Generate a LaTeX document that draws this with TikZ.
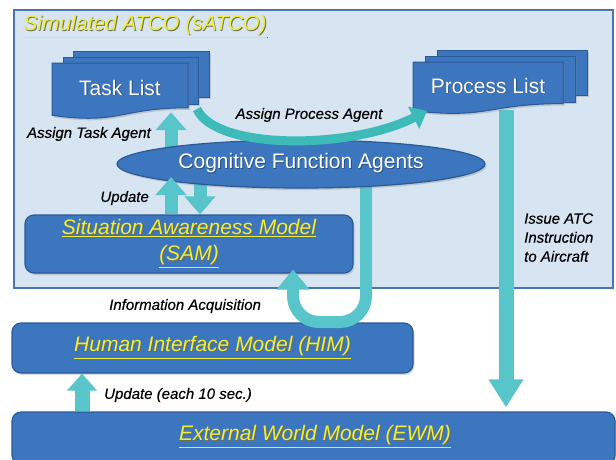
\documentclass[tikz,border=0pt]{standalone}
\usepackage{fontspec}
\setmainfont{Liberation Sans}
\newfontfamily\lblf[FakeBold=0.4]{Liberation Sans}
\usetikzlibrary{arrows.meta,shapes.geometric,shadows}
\pgfdeclarelayer{back}
\pgfdeclarelayer{mid}
\pgfsetlayers{back,mid,main}
\definecolor{bgblue}{HTML}{D7E4F1}
\definecolor{frameblue}{HTML}{4A74B0}
\definecolor{boxblue}{HTML}{3C76BE}
\definecolor{boxedge}{HTML}{2B5A98}
\definecolor{ylw}{HTML}{EEEE40}
\definecolor{yshadow}{HTML}{6E6E50}
\definecolor{wshadow}{HTML}{2A4E80}
\definecolor{tealc}{HTML}{58C5CA}
\definecolor{tealmid}{HTML}{3CBBB8}
\newcommand{\ytxt}[1]{{\color{yshadow}\rlap{\hspace{0.9pt}\raisebox{-0.9pt}{\underline{#1}}}}\underline{#1}}
\newcommand{\wtxt}[1]{{\color{wshadow}\rlap{\hspace{0.9pt}\raisebox{-0.9pt}{#1}}}#1}
\tikzset{
  shd/.style={drop shadow={opacity=0.3,shadow xshift=1.5pt,shadow yshift=-2pt}},
  box/.style={draw=boxedge, line width=1.2pt, fill=boxblue, rounded corners=9pt, shd, inner sep=0pt},
  ytitle/.style={text=ylw, font=\fontsize{21}{26}\selectfont\itshape},
  wtext/.style={text=white, font=\fontsize{21}{24}\selectfont},
  lbl/.style={font=\lblf\fontsize{15}{19}\selectfont\itshape, text=black, inner sep=0pt},
  blk/.style={draw=tealc, line width=13pt, -{Triangle[width=30pt,length=18pt]}},
  docsh/.style={draw=boxedge, line width=1pt, fill=boxblue, shd},
}
\begin{document}
\begin{tikzpicture}[x=1pt,y=-1pt]
\useasboundingbox (0,0) rectangle (616,459);
\begin{pgfonlayer}{back}
  \fill[white] (0,0) rectangle (616,459);
  \node[draw=frameblue, line width=1.2pt, fill=bgblue, minimum width=599pt, minimum height=278pt, inner sep=0pt] (satco) at (313.5,149) {};
  \node[ytitle, anchor=west] (title) at (20,27) {\ytxt{Simulated ATCO (sATCO)}};
  \node[box, ytitle, align=center, minimum width=328pt, minimum height=58pt] (sam) at (189,244) {\ytxt{Situation Awareness Model}\\\ytxt{(SAM)}};
  \node[box, ytitle, minimum width=401pt, minimum height=50pt] (him) at (212.5,348) {\ytxt{Human Interface Model (HIM)}};
  \node[box, minimum width=603pt, minimum height=52pt] (ewm) at (313.5,438) {};
  \node[ytitle] (ewmt) at (315,437) {\ytxt{External World Model (EWM)}};
\end{pgfonlayer}

% Task List documents
\path[docsh] (73,51) rectangle (209,97);
\path[docsh] (63,57) rectangle (198,104);
\path[docsh] (52,63) -- (188,63) -- (188,107.8) .. controls (120,107.8) and (120,125) .. (52,115.3) -- cycle;
\node[wtext, minimum width=136pt, minimum height=48pt] (task) at (120,88) {\wtxt{Task List}};

% Process List documents
\path[docsh] (437,50) rectangle (587,95);
\path[docsh] (425,56) rectangle (575,102);
\path[docsh] (413,62) -- (563,62) -- (563,103.6) .. controls (488,103.6) and (488,119.6) .. (413,110.6) -- cycle;
\node[wtext, minimum width=150pt, minimum height=48pt] (proc) at (488,86) {\wtxt{Process List}};

% Cognitive Function Agents
\node[ellipse, draw=boxedge, line width=1.2pt, fill=boxblue, minimum width=368pt, minimum height=48pt, inner sep=0pt, wtext, shd] (cfa) at (301,164) {\wtxt{Cognitive Function Agents}};

\coordinate (xa) at (171,0);
\coordinate (xb) at (200,0);
\coordinate (xe) at (506,0);
\coordinate (xf) at (82,0);
\coordinate (u1) at (366,322);
\coordinate (u2) at (293,322);
\coordinate (ut) at (171,177);
\coordinate (ap1) at (197,109);
\coordinate (ap2) at (427,111);

\begin{pgfonlayer}{mid}
  \draw[blk] (cfa.center -| xa) -- (task.south -| xa);
  \draw[blk] (cfa.center -| xb) -- (sam.north -| xb);
  \draw[blk, line width=12pt, -{Triangle[width=32pt,length=20pt]}, rounded corners=26pt, shorten >=-4pt]
    (cfa.center -| u1) -- (u1) -- (u2) -- (sam.south -| u2);
  \draw[blk, line width=15pt, -{Triangle[width=33pt,length=28pt]}, shorten >=4pt] (proc.south -| xe) -- (ewm.north -| xe);
  \draw[blk, line width=15pt, -{Triangle[width=29pt,length=17pt]}] (ewm.north -| xf) -- (him.south -| xf);
\end{pgfonlayer}

\draw[blk] (sam.north -| xa) -- (ut);
\draw[draw=tealmid, line width=9pt, -{Triangle[width=24pt,length=15pt]}] (ap1) .. controls (215,150) and (350,150) .. (ap2);

% labels
\node[lbl, anchor=east] (lat) at (151,134) {Assign Task Agent};
\node[lbl] (lap) at (309,115) {Assign Process Agent};
\node[lbl, anchor=east] (lup) at (149,198) {Update};
\node[lbl, anchor=west] (lia) at (109,306) {Information Acquisition};
\node[lbl, anchor=west] (lu10) at (104,395) {Update (each 10 sec.)};
\node[lbl, anchor=north west, align=left] (liss) at (524,213) {Issue ATC\\Instruction\\to Aircraft};
\end{tikzpicture}
\end{document}
